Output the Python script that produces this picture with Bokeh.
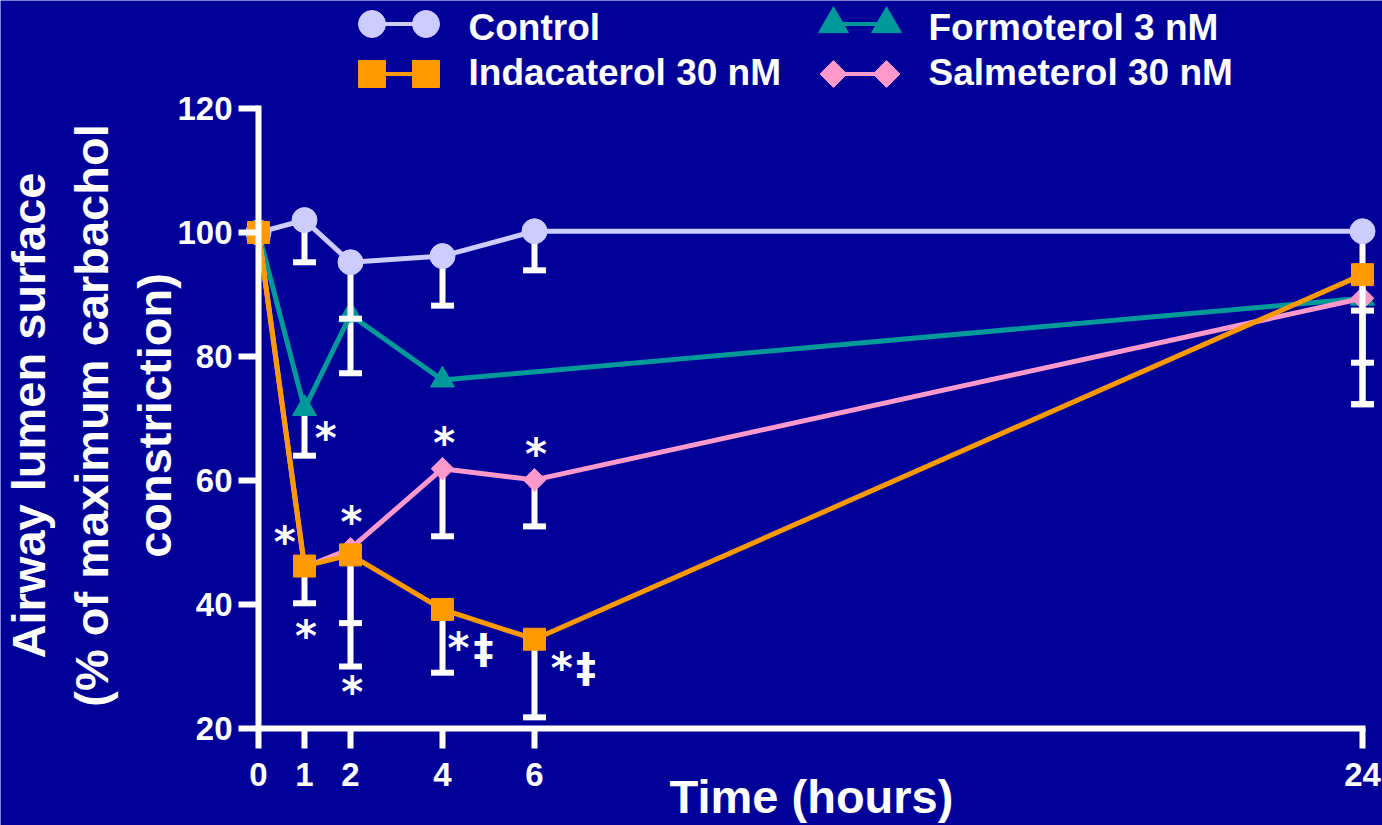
import numpy as np
from bokeh.plotting import figure
from bokeh.models import Range1d, FixedTicker, Label, ColumnDataSource
from bokeh.core.properties import value
from bokeh.embed import file_html
from bokeh.resources import INLINE

# ---------------------------------------------------------------- data
hours = [0, 1, 2, 4, 6, 24]
hours_formoterol = [0, 1, 2, 4, 24]

control = [100, 102.0, 95.2, 96.2, 100.2, 100.2]
control_low = [np.nan, 95.2, 86.1, 88.2, 93.9, 87.4]

formoterol = [100, 71.6, 86.7, 76.2, 89.4]
formoterol_low = [np.nan, 64.0, 77.3, np.nan, 72.3]

salmeterol = [100, 46.0, 49.0, 61.9, 60.1, 89.4]
salmeterol_low = [np.nan, np.nan, 37.0, 51.0, 52.6, 72.3]

indacaterol = [100, 46.2, 48.0, 39.2, 34.4, 93.2]
indacaterol_low = [np.nan, 40.2, 30.0, 29.0, 21.8, 79.0]

x_ticks = [0, 1, 2, 4, 6, 24]
y_ticks = [20, 40, 60, 80, 100, 120]

# significance marks (hours, % position)
star_x = [1.46, 4.04, 6.03, 2.02, 0.57, 1.03, 2.04, 4.35, 6.59]
star_y = [67.4, 66.6, 64.8, 53.9, 50.6, 35.5, 26.5, 33.5, 30.3]
dagger_x = [4.89, 7.12]
dagger_y = [32.8, 29.7]

# --------------------------------------------------------------- styling
BG = "#000099"
WHITE = "#FFFFFF"
FONT = "Liberation Sans"
C_CONTROL = "#CCCCFF"
C_FORMO = "#009999"
C_INDA = "#FF9900"
C_SALME = "#FF99CC"

W, H = 1382, 825
X0_PX, PX_PER_H = 258, 46.0      # screen position of hour 0, pixels per hour
Y20_PX, PX_PER_PCT = 728, 6.2    # screen position of 20 %, pixels per %


def xd(px):
    return (px - X0_PX) / PX_PER_H


def yd(py):
    return 20 + (Y20_PX - py) / PX_PER_PCT


# the plotting frame fills the whole canvas; axes sit at hour 0 / 20 %
p = figure(
    width=W, height=H,
    x_range=Range1d(xd(0), xd(W)),
    y_range=Range1d(yd(H), yd(0)),
    output_backend="svg", toolbar_location=None,
    min_border_left=0, min_border_right=0,
    min_border_top=0, min_border_bottom=0,
    background_fill_color=BG, border_fill_color=BG,
    outline_line_color=None,
)
p.grid.visible = False

for ax in (p.xaxis[0], p.yaxis[0]):
    ax.axis_line_color = WHITE
    ax.axis_line_width = 6
    ax.axis_line_cap = "square"
    ax.major_tick_line_color = WHITE
    ax.major_tick_line_width = 6
    ax.major_tick_out = 20
    ax.major_tick_in = 0
    ax.minor_tick_line_color = None
    ax.major_label_text_color = WHITE
    ax.major_label_text_font = FONT
    ax.major_label_text_font_style = "bold"
    ax.major_label_text_font_size = "33px"

p.xaxis.ticker = FixedTicker(ticks=x_ticks)
p.yaxis.ticker = FixedTicker(ticks=y_ticks)
p.xaxis.bounds = (0, 24)
p.yaxis.bounds = (20, 120)
p.xaxis.fixed_location = 20
p.yaxis.fixed_location = 0
p.xaxis.major_label_standoff = 14
p.yaxis.major_label_standoff = 6


def draw_series(xs, ys, lows, color, marker, size, angle=0.0):
    src = ColumnDataSource(dict(x=xs, y=ys, low=lows))
    p.segment(x0="x", y0="y", x1="x", y1="low", source=src,
              line_color=WHITE, line_width=6)
    p.scatter(x="x", y="low", source=src, marker="dash", size=23,
              line_color=WHITE, line_width=6)
    p.line(x="x", y="y", source=src, line_color=color, line_width=5)
    p.scatter(x="x", y="y", source=src, marker=marker, size=size, angle=angle,
              fill_color=color, line_color=color, line_width=1)


draw_series(hours_formoterol, formoterol, formoterol_low, C_FORMO, "triangle", 24)
draw_series(hours, control, control_low, C_CONTROL, "circle", 25)
draw_series(hours, salmeterol, salmeterol_low, C_SALME, "square", 16, np.pi / 4)
draw_series(hours, indacaterol, indacaterol_low, C_INDA, "square", 22)

# significance marks
p.text(x=star_x, y=star_y, text=["*"] * len(star_x),
       text_font=value("DejaVu Sans"), text_font_style="bold",
       text_font_size="42px", text_color=WHITE,
       text_align="center", text_baseline="middle", y_offset=4)
p.text(x=dagger_x, y=dagger_y, text=["\u2021"] * len(dagger_x),
       text_font=value("DejaVu Sans"), text_font_style="bold",
       text_font_size="40px", text_color=WHITE,
       text_align="center", text_baseline="middle")

# legend: two columns, two rows; key = short line with a marker at each end
legend_items = [
    ("Control", C_CONTROL, "circle", 27, 0.0, 0, 0),
    ("Indacaterol 30 nM", C_INDA, "square", 27, 0.0, 0, 1),
    ("Formoterol 3 nM", C_FORMO, "triangle", 30, 0.0, 1, 0),
    ("Salmeterol 30 nM", C_SALME, "square", 19, np.pi / 4, 1, 1),
]
key_left_px = [371.5, 833.0]
key_right_px = [425.5, 886.0]
label_left_px = [468.0, 928.0]
key_row_px = [23.5, 73.5]
label_mid_px = [27.0, 72.0]

for name, color, marker, size, angle, col, row in legend_items:
    kx = [xd(key_left_px[col]), xd(key_right_px[col])]
    ky = [yd(key_row_px[row])] * 2
    p.line(x=kx, y=ky, line_color=color, line_width=4)
    p.scatter(x=kx, y=ky, marker=marker, size=size, angle=angle,
              fill_color=color, line_color=color)
    p.text(x=[xd(label_left_px[col])], y=[yd(label_mid_px[row])], text=[name],
           text_font=value(FONT), text_font_style="bold", text_font_size="37px",
           text_color=WHITE, text_align="left", text_baseline="middle")

# axis titles
p.add_layout(Label(
    x=xd(811), y=yd(796), text="Time (hours)",
    text_font=FONT, text_font_style="bold", text_font_size="47px",
    text_color=WHITE, text_align="center", text_baseline="middle",
))
p.add_layout(Label(
    x=xd(91), y=yd(415), angle=np.pi / 2,
    text="Airway lumen surface\n(% of maximum carbachol\nconstriction)",
    text_font=FONT, text_font_style="bold", text_font_size="47px",
    text_color=WHITE, text_align="center", text_baseline="middle",
    text_line_height=1.18,
))

open("out.html", "w").write(file_html(p, INLINE))
